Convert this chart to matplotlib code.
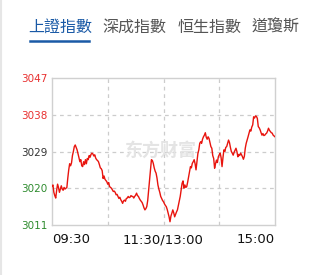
import matplotlib
matplotlib.use("Agg")
import matplotlib.pyplot as plt
from matplotlib.lines import Line2D

plt.rcParams['font.family'] = ['Noto Sans CJK TC', 'DejaVu Sans']

tabs = ['上證指數', '深成指數', '恒生指數', '道瓊斯']
tab_x = [28, 102, 178, 252]  # left edge in pixels

# index value for each trading minute (09:30 -> 15:00, lunch break removed)
index_values = [
    3020.5, 3020.8, 3019.0, 3018.2, 3017.6, 3019.5, 3021.0, 3020.2, 3019.0, 3019.8,
    3020.6, 3019.8, 3019.5, 3020.2, 3019.8, 3020.0, 3020.2, 3022.5, 3024.5, 3026.0,
    3025.5, 3026.2, 3028.0, 3029.0, 3030.2, 3030.6, 3030.0, 3029.4, 3028.5, 3027.5,
    3026.5, 3027.0, 3025.5, 3025.3, 3026.5, 3025.8, 3027.0, 3026.0, 3027.3, 3027.0,
    3028.0, 3027.6, 3028.3, 3028.6, 3028.4, 3027.9, 3028.2, 3027.4, 3027.0, 3026.8,
    3026.5, 3025.8, 3025.0, 3024.8, 3024.3, 3022.4, 3023.0, 3022.2, 3021.9, 3021.6,
    3021.0, 3021.4, 3020.4, 3020.2, 3020.0, 3019.6, 3019.2, 3019.3, 3019.0, 3018.4,
    3018.5, 3018.0, 3017.5, 3017.8, 3017.2, 3016.8, 3016.3, 3016.9, 3017.1, 3016.8,
    3017.5, 3017.6, 3018.0, 3017.7, 3017.8, 3018.2, 3018.0, 3018.0, 3017.6, 3018.0,
    3018.3, 3018.8, 3018.2, 3018.0, 3017.5, 3017.1, 3016.8, 3016.5, 3015.9, 3015.2,
    3014.7, 3015.0, 3015.5, 3017.0, 3019.6, 3022.0, 3024.5, 3027.0, 3026.8, 3026.1,
    3025.0, 3024.2, 3023.7, 3022.5, 3020.8, 3019.8, 3019.0, 3018.0, 3017.5, 3017.0,
    3016.7, 3016.2, 3015.8, 3015.5, 3014.8, 3013.9, 3013.0, 3011.8, 3013.2, 3013.9,
    3014.7, 3014.0, 3013.0, 3013.6, 3014.2, 3014.7, 3015.8, 3017.0, 3018.0, 3019.6,
    3021.2, 3021.8, 3020.0, 3020.8, 3020.2, 3020.4, 3021.5, 3022.8, 3024.0, 3025.3,
    3025.0, 3026.1, 3026.5, 3027.0, 3026.0, 3024.5, 3026.5, 3028.5, 3029.4, 3031.0,
    3031.4, 3031.0, 3032.0, 3032.6, 3033.0, 3033.6, 3032.5, 3032.0, 3032.6, 3032.2,
    3031.2, 3030.2, 3029.8, 3028.0, 3027.3, 3024.9, 3026.0, 3026.9, 3026.3, 3027.7,
    3028.2, 3028.6, 3027.5, 3025.3, 3027.5, 3029.4, 3029.0, 3030.0, 3030.2, 3031.0,
    3031.8, 3031.2, 3030.0, 3029.0, 3028.6, 3028.1, 3028.8, 3029.3, 3029.8, 3029.0,
    3027.7, 3028.3, 3028.0, 3028.6, 3028.2, 3027.7, 3027.1, 3027.8, 3029.8, 3031.0,
    3031.8, 3032.6, 3033.5, 3034.3, 3034.0, 3035.0, 3035.5, 3037.5, 3037.2, 3037.7,
    3037.6, 3037.1, 3035.1, 3034.8, 3034.3, 3033.6, 3033.0, 3033.4, 3032.9, 3033.0,
    3033.3, 3033.5, 3034.0, 3034.7, 3034.2, 3033.9, 3033.6, 3033.5, 3033.0, 3032.8,
    3032.6,
]
minutes = list(range(len(index_values)))

y_ticks = [3011, 3020, 3029, 3038, 3047]
y_colors = ['#2e8b2e', '#2e8b2e', '#333333', '#e83030', '#e83030']
x_ticks = [0, 120, 240]
x_labels = ['09:30', '11:30/13:00', '15:00']

W, H = 325, 275
fig = plt.figure(figsize=(W / 100, H / 100), dpi=100)
ax = fig.add_axes([52 / W, 1 - 225 / H, 223 / W, 147 / H])

ax.plot(minutes, index_values, color='#e8140e', linewidth=1.0, zorder=3)
ax.set_xlim(0, 240)
ax.set_ylim(3011, 3047)

# dashed grid
for m in [60, 120, 180]:
    ax.axvline(m, color='#cccccc', linestyle=(0, (3, 3)), linewidth=0.9, zorder=1)
for v in [3020, 3029, 3038]:
    ax.axhline(v, color='#cccccc', linestyle=(0, (3, 3)), linewidth=0.9, zorder=1)

for s in ax.spines.values():
    s.set_color('#d0d0d0')
    s.set_linewidth(1)

ax.set_yticks(y_ticks)
ax.set_yticklabels([str(t) for t in y_ticks], fontsize=7.5, family='DejaVu Sans')
for lab, c in zip(ax.get_yticklabels(), y_colors):
    lab.set_color(c)
ax.set_xticks(x_ticks)
ax.set_xticklabels(x_labels, fontsize=9.5, color='#111111', family='DejaVu Sans')
for lab, ha in zip(ax.get_xticklabels(), ['left', 'center', 'right']):
    lab.set_horizontalalignment(ha)
ax.tick_params(length=0, pad=3, axis='y')
ax.tick_params(length=0, pad=6, axis='x')

# watermark
ax.text(0.49, 0.51, '东方财富', transform=ax.transAxes, fontsize=13, fontweight='bold',
        color='#e4e4e4', ha='center', va='center', family=['Noto Sans CJK SC'], zorder=2)

# tab header
for i, (t, x) in enumerate(zip(tabs, tab_x)):
    fig.text(x / W, 1 - 27 / H, t, fontsize=11.5, ha='left', va='center',
             color='#1a5aa6' if i == 0 else '#555555')
fig.add_artist(Line2D([30 / W, 89 / W], [1 - 40.5 / H] * 2, color='#1a5aa6', linewidth=1.8))
fig.add_artist(Line2D([0.002, 0.002], [0, 1], color='#e6e6e6', linewidth=1.5))

fig.savefig('out.png', dpi=100)
